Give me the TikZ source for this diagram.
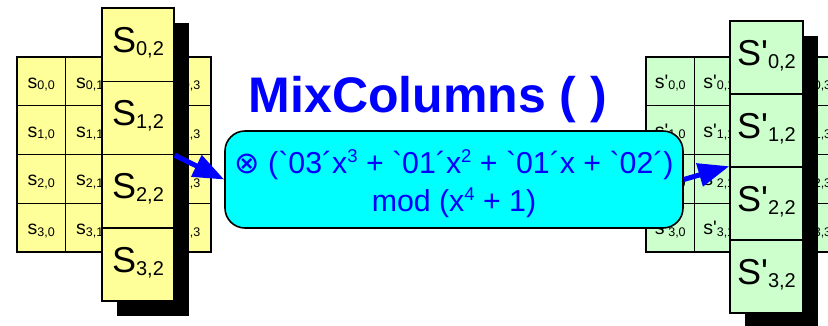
\documentclass[tikz,border=0pt]{standalone}
\usepackage{fontspec}
\setmainfont{Liberation Sans}[Ligatures=TeXOff]
\newfontfamily\dvsans{DejaVu Sans}
\usetikzlibrary{arrows.meta,calc}
\definecolor{cellyellow}{HTML}{FFFF99}
\definecolor{cellgreen}{HTML}{CCFFCC}
\definecolor{boxcyan}{HTML}{00FFFF}
\definecolor{textblue}{HTML}{0000FF}
\newcommand{\smallS}[2]{\fontsize{19.5}{19.5}\selectfont #1\raisebox{-1.5pt}{\fontsize{12.5}{12.5}\selectfont #2}}
\newcommand{\bigS}[2]{\fontsize{36}{36}\selectfont #1\raisebox{-3pt}{\fontsize{20}{20}\selectfont #2}}
\newcommand{\sups}[1]{\raisebox{11.5pt}{\fontsize{18.5}{18.5}\selectfont #1}}
\tikzset{
  smallcell/.style={draw=black, line width=1.3pt, minimum width=48.5pt, minimum height=48.75pt,
    inner sep=0pt, text height=17pt, text depth=3pt},
  bigcell/.style={draw=black, line width=1.5pt, inner sep=0pt, text height=26pt, text depth=10.6pt},
  shadowbox/.style={fill=black},
  titletext/.style={text=textblue, font=\fontsize{50}{50}\selectfont\bfseries, inner sep=0pt},
  mixbox/.style={draw=black, line width=1.6pt, fill=boxcyan, rounded corners=20pt,
    minimum width=458pt, minimum height=97pt, inner sep=0pt, align=center,
    text=textblue, font=\fontsize{30.3}{38}\selectfont},
  bluearrow/.style={draw=textblue, line width=5pt, -{Triangle[length=31pt,width=23pt]}}
}
\begin{document}
\begin{tikzpicture}[x=1pt,y=-1pt]
\useasboundingbox (0,0) rectangle (828,325);
% left state grid
\foreach \r in {0,...,3}{
  \foreach \c/\xx in {0/41.25,1/89.75,3/186.75}{
    \node[smallcell, fill=cellyellow] (ls\r\c) at (\xx,{81.375+48.75*\r}) {\smallS{s}{\r,\c}};
  }
}
% left column shadow and column
\fill[shadowbox] (117,23) rectangle (189,316);
\foreach \r in {0,...,3}{
  \node[bigcell, fill=cellyellow, minimum width=72pt, minimum height=73.25pt] (lc\r) at (138,{44.625+73.25*\r}) {\bigS{S}{\r,2}};
}
% right state grid
\foreach \r in {0,...,3}{
  \foreach \c/\xx in {0/670.25,1/718.75,3/815.75}{
    \node[smallcell, fill=cellgreen] (rs\r\c) at (\xx,{81.375+48.75*\r}) {\smallS{s'}{\r,\c}};
  }
}
% right column shadow and column
\fill[shadowbox] (745,36) rectangle (818,328);
\foreach \r in {0,...,3}{
  \node[bigcell, fill=cellgreen, minimum width=73pt, minimum height=73pt] (rc\r) at (766.5,{57.5+73*\r}) {\bigS{S'}{\r,2}};
}
% title
\node[titletext, anchor=base] (title) at (428,112) {MixColumns ( )};
% operation box
\node[mixbox] (mix) at (454,179.5) {\rule{0pt}{32.5pt}{\dvsans ⊗} (`03´x\sups{3} + `01´x\sups{2} + `01´x + `02´)\\mod (x\sups{4} + 1)};
% arrows
\draw[bluearrow] (lc1.south east) -- (mix.west);
\draw[bluearrow] (mix.east) -- (rc2.north west);
\end{tikzpicture}
\end{document}
